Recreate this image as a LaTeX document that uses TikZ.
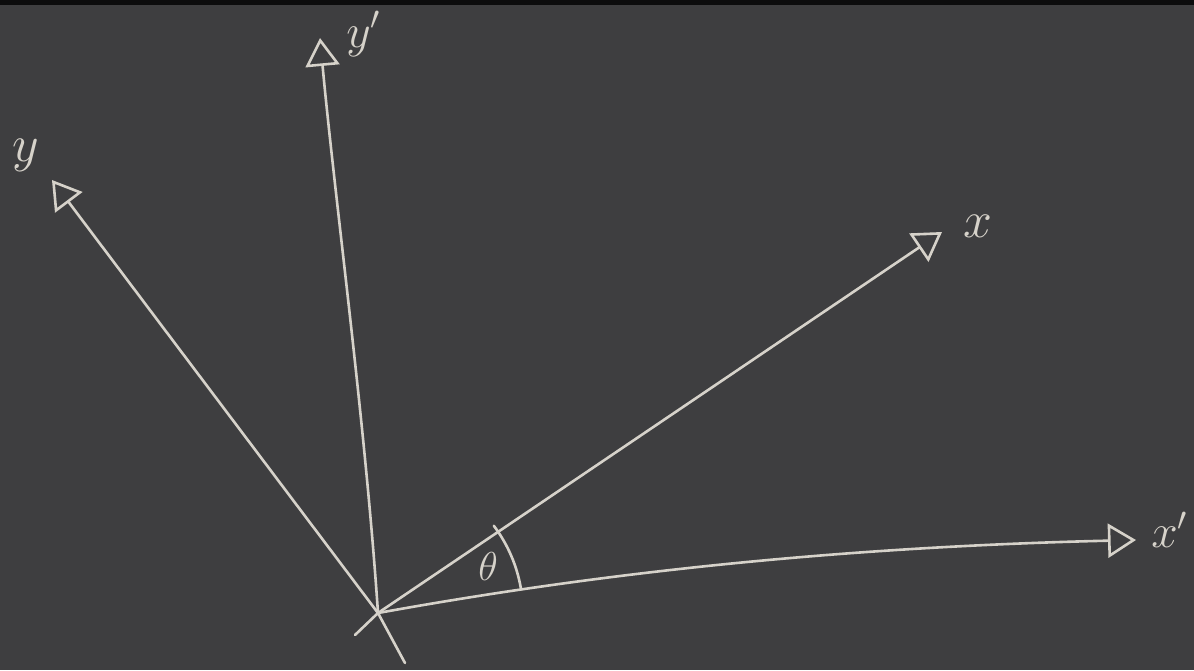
\documentclass[tikz,border=0pt]{standalone}
\usetikzlibrary{arrows.meta}
\definecolor{board}{RGB}{62,62,64}
\definecolor{chalk}{RGB}{214,210,202}
\newcommand{\chalktext}[2][3.6]{\scalebox{#1}{#2}}
\begin{document}
\begin{tikzpicture}[x=1pt,y=-1pt,
  axis/.style={draw=chalk,line width=2.6pt,line cap=round,
    -{Triangle[open,length=28pt,width=34pt,line width=2.6pt]}},
  chalkline/.style={draw=chalk,line width=2.6pt,line cap=round},
  lab/.style={text=chalk,font=\Large,inner sep=0pt}]
\fill[board] (0,0) rectangle (1194,670);
\fill[black!80!board] (0,0) rectangle (1194,5);
\useasboundingbox (0,0) rectangle (1194,670);
\coordinate (O) at (378,613);
\coordinate (Xp) at (1136,540);
\coordinate (X) at (942,232);
\coordinate (Y) at (52,180);
\coordinate (Yp) at (320,38);
\coordinate (Xb) at (355,635);
\coordinate (Yb) at (405,663);
% axes
\draw[axis] (O) .. controls (560,580) and (800,548) .. (Xp);
\draw[axis] (O) -- (X);
\draw[axis] (O) -- (Y);
\draw[axis] (O) .. controls (365,420) and (335,200) .. (Yp);
% stubs below origin
\draw[chalkline] (O) -- (Xb);
\draw[chalkline] (O) -- (Yb);
% angle arc
\draw[chalkline] (O) ++(-37:145) arc[start angle=-37,end angle=-9.5,radius=145];
% labels
\node[lab] (lyp) at (364,34) {\chalktext[3.3]{$y'$}};
\node[lab] (ly) at (26,155) {\chalktext{$y$}};
\node[lab] (lx) at (978,226) {\chalktext{$x$}};
\node[lab] (lxp) at (1170,530) {\chalktext[3.3]{$x'$}};
\node[lab] (lt) at (488,566) {\chalktext[2.8]{$\theta$}};
\end{tikzpicture}
\end{document}
